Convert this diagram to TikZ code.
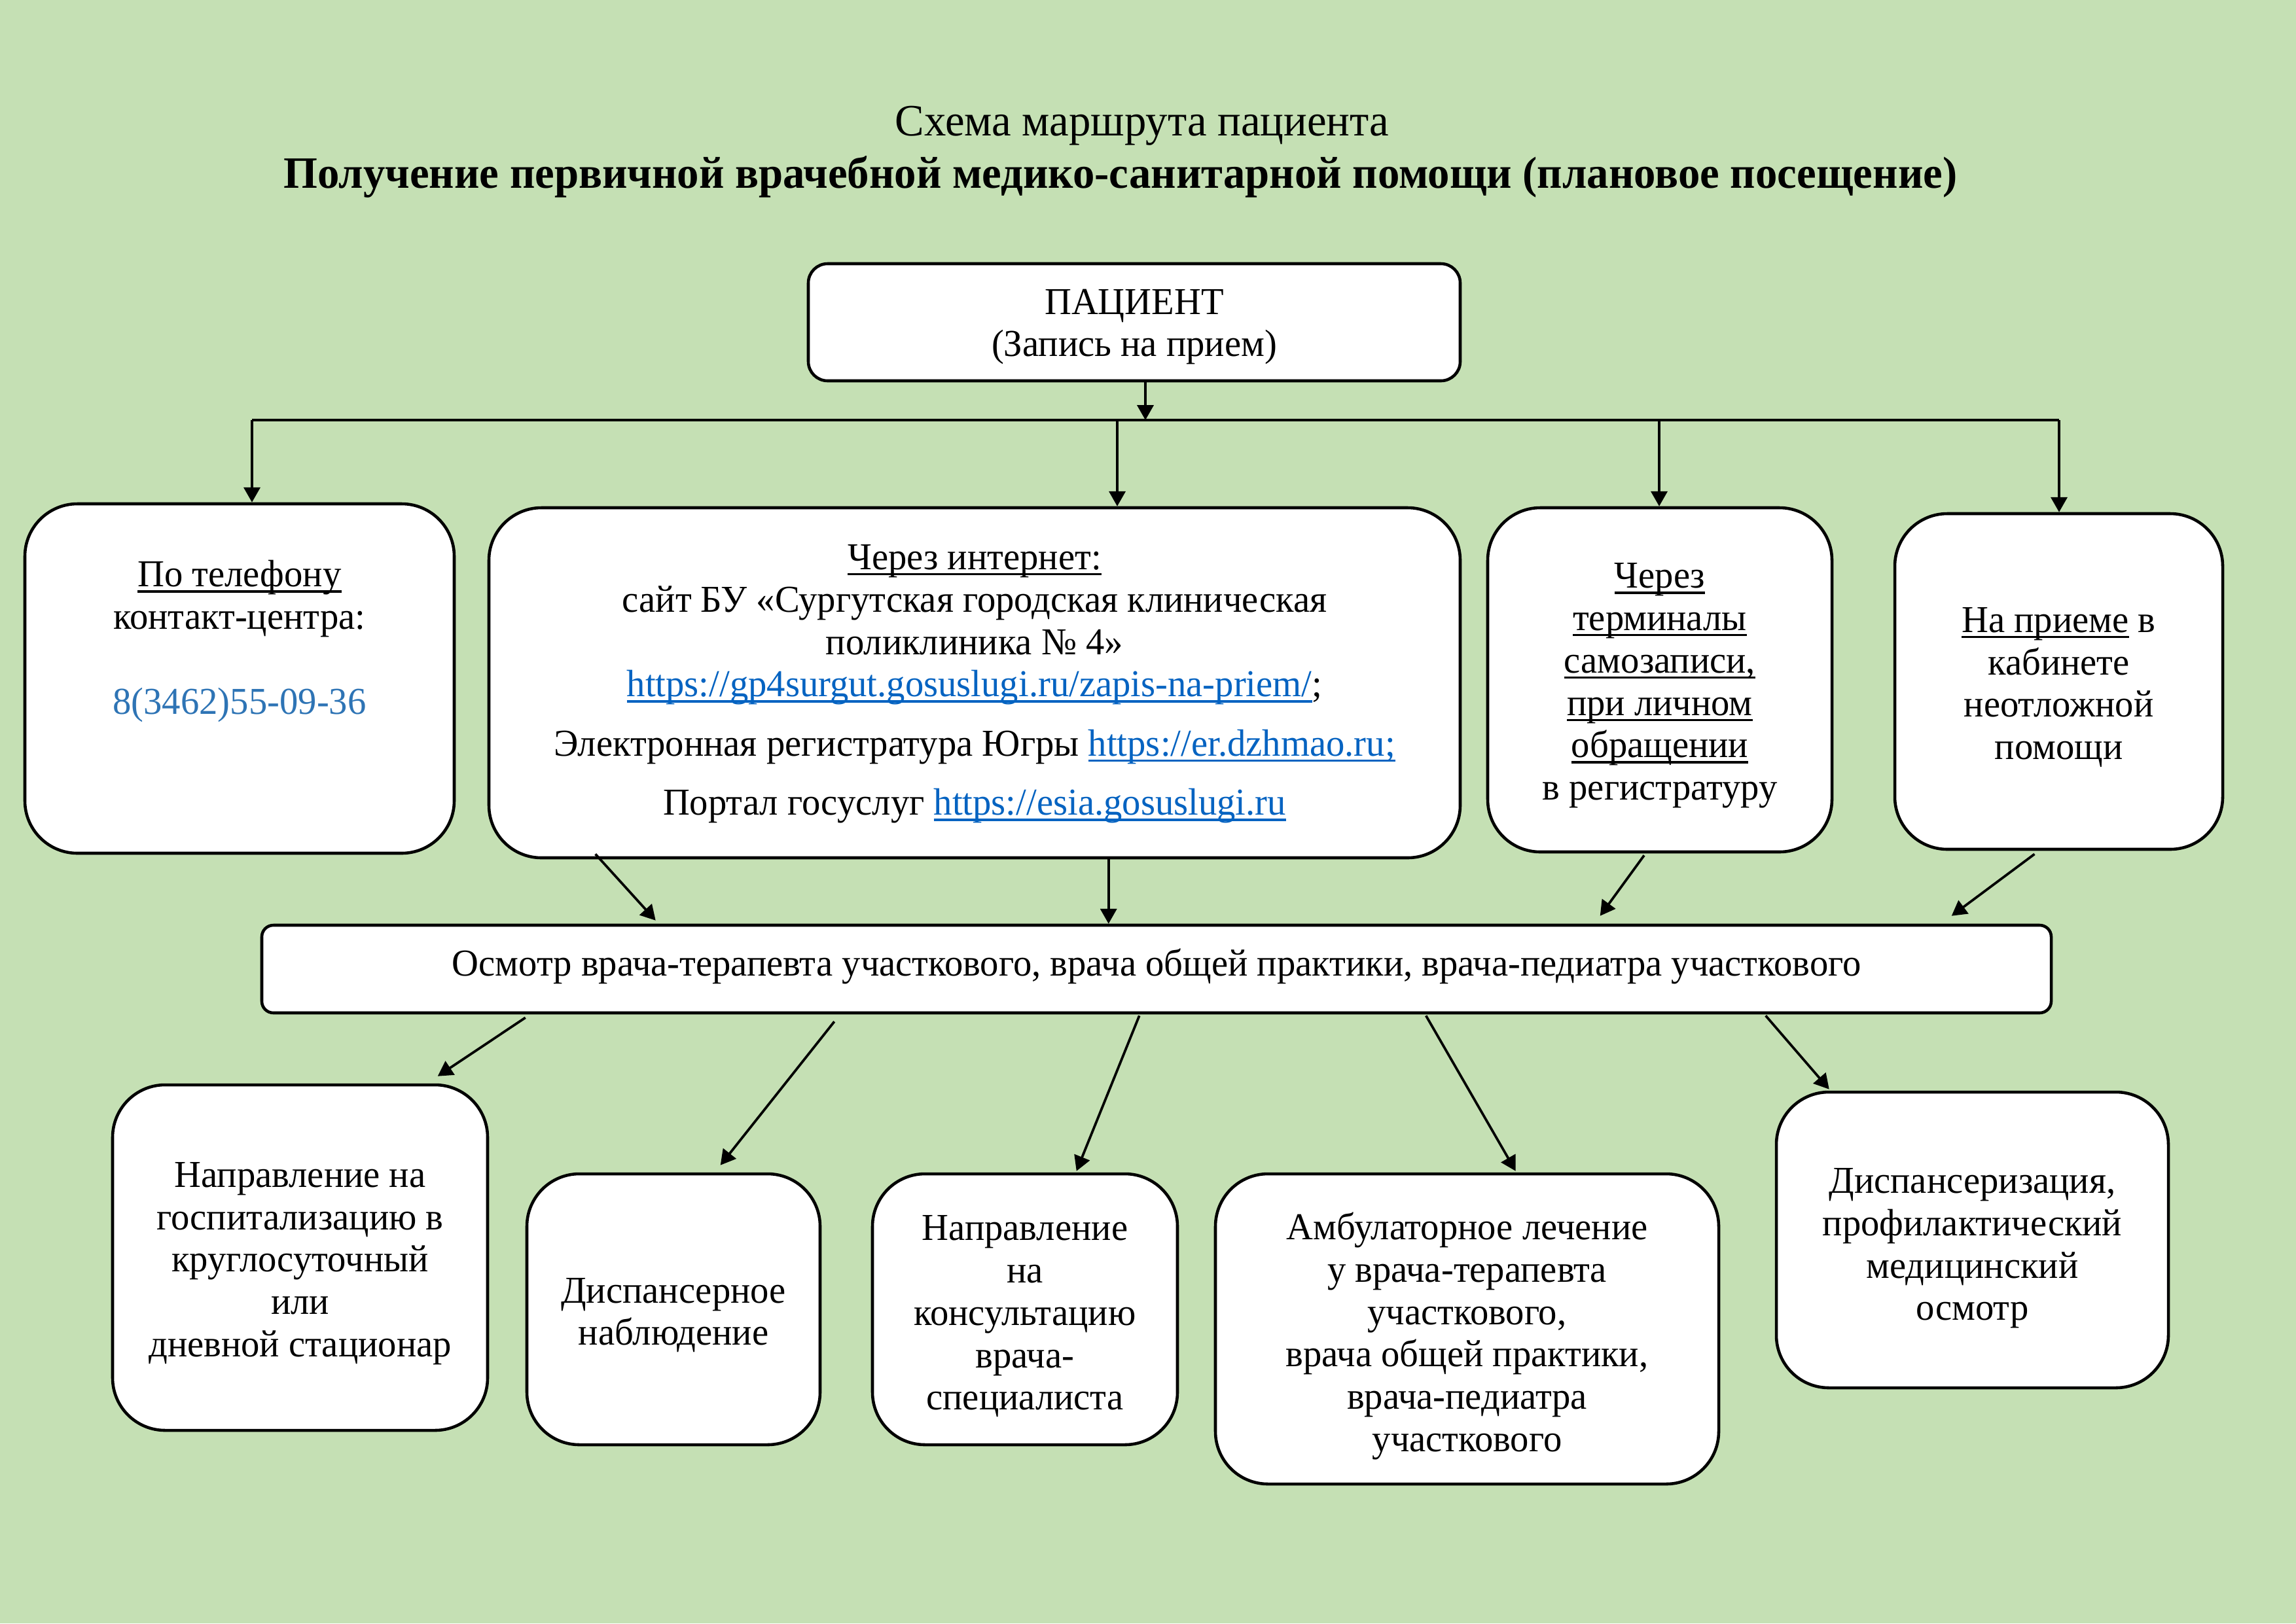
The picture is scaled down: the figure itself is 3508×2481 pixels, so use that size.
\documentclass[tikz,border=0pt]{standalone}
\usepackage{fontspec}
\setmainfont[FakeStretch=0.975]{Liberation Serif}
\usetikzlibrary{arrows.meta,calc}
\definecolor{bg}{HTML}{C5E0B4}
\definecolor{linkc}{HTML}{0563C1}
\definecolor{phonec}{HTML}{2E74B5}
\newcommand{\myul}[1]{\setbox0=\hbox{#1}\leavevmode\rlap{\vrule height -1.3pt depth 2.1pt width \wd0}\box0\relax}
\newcommand{\lnk}[1]{\textcolor{linkc}{\myul{#1}}}
\begin{document}
\begin{tikzpicture}[x=0.0084663cm,y=-0.0084663cm,
  box/.style={draw=black, line width=1.1pt, fill=white, inner sep=0pt},
  wh/.style 2 args={minimum width=#1*0.0084663cm, minimum height=#2*0.0084663cm},
  bigr/.style={rounded corners=0.68cm},
  txt/.style={align=center, inner sep=0pt, font=\fontsize{14}{15.6}\selectfont},
  ttl/.style={inner sep=0pt, font=\fontsize{16.5}{19}\selectfont},
  ln/.style={line width=0.8pt},
  arr/.style={line width=0.9pt, -{Triangle[length=5.5pt,width=6pt]}}]
\fill[bg] (0,0) rectangle (3508,2481);
\useasboundingbox (0,0) rectangle (3508,2481);

% titles
\node[ttl] (t1) at (1745,192) {Схема маршрута пациента};
\node[ttl, font=\fontsize{16.5}{19}\selectfont\bfseries] (t2) at (1712,270) {Получение первичной врачебной медико-санитарной помощи (плановое посещение)};

% patient
\node[box, rounded corners=0.25cm, wh={996}{179}] (pat) at (1733,492.5) {};
\node[txt] (pat-t) at ($(pat.center)+(0,7)$) {ПАЦИЕНТ\\(Запись на прием)};

% row 2
\node[box, bigr, wh={656}{534}] (phone) at (366,1037) {};
\node[txt] (phone-t) at (366,980) {\myul{По телефону}\\контакт-центра:\\[15.6pt]\textcolor{phonec}{8(3462)55-09-36}};

\node[box, bigr, wh={1484}{535}] (inet) at (1489,1043.5) {};
\node[txt] (inet-t) at ($(inet.center)+(0,2)$) {\myul{Через интернет:}\\
сайт БУ «Сургутская городская клиническая\\
поликлиника № 4»\\
\lnk{https://gp4surgut.gosuslugi.ru/zapis-na-priem/};\\[6.2pt]
Электронная регистратура Югры \lnk{https://er.dzhmao.ru;}\\[6.2pt]
Портал госуслуг \lnk{https://esia.gosuslugi.ru}};

\node[box, bigr, wh={526}{526}] (term) at (2536,1039) {};
\node[txt] (term-t) at ($(term.center)+(0,9)$) {\myul{Через}\\\myul{терминалы}\\\myul{самозаписи,}\\\myul{при личном}\\\myul{обращении}\\в регистратуру};

\node[box, bigr, wh={501}{513}] (recep) at (3145.5,1041.5) {};
\node[txt] (recep-t) at ($(recep.center)+(0,9)$) {\myul{На приеме} в\\кабинете\\неотложной\\помощи};

% middle
\node[box, rounded corners=0.15cm, wh={2734}{134}] (osm) at (1767,1481) {};
\node[txt] (osm-t) at ($(osm.center)+(0,-4)$) {Осмотр врача-терапевта участкового, врача общей практики, врача-педиатра участкового};

% row 3
\node[box, bigr, wh={573}{528}] (hosp) at (458.5,1922) {};
\node[txt] (hosp-t) at ($(hosp.center)+(0,9)$) {Направление на\\госпитализацию в\\круглосуточный\\или\\дневной стационар};
\node[box, bigr, wh={448}{414}] (disp) at (1029,2001) {};
\node[txt] (disp-t) at ($(disp.center)+(0,9)$) {Диспансерное\\наблюдение};
\node[box, bigr, wh={466}{414}] (napr) at (1566,2001) {};
\node[txt] (napr-t) at ($(napr.center)+(0,11)$) {Направление\\на\\консультацию\\врача-\\специалиста};
\node[box, bigr, wh={769}{474}] (amb) at (2241.5,2031) {};
\node[txt] (amb-t) at ($(amb.center)+(0,11)$) {Амбулаторное лечение\\у врача-терапевта\\участкового,\\врача общей практики,\\врача-педиатра\\участкового};
\node[box, bigr, wh={599}{452}] (dispz) at (3013.5,1895) {};
\node[txt] (dispz-t) at ($(dispz.center)+(0,13)$) {Диспансеризация,\\профилактический\\медицинский\\осмотр};

% distribution line
\coordinate (hL) at (385,642);
\coordinate (hR) at (3146,642);
\coordinate (pin) at (1750,642);
\coordinate (d2) at (1707,642);
\coordinate (d3) at (2535,642);
\draw[ln] (hL) -- (hR);
\draw[arr] (pin |- pat.south) -- (pin);
\draw[arr] (hL) -- (hL |- phone.north);
\draw[arr] (d2) -- (d2 |- inet.north);
\draw[arr] (d3) -- (d3 |- term.north);
\draw[arr] (hR) -- (hR |- recep.north);

% to osmotr
\draw[arr] ($(inet.south west)+(165,-8)$) -- ($(osm.north west)+(604,-5)$);
\draw[arr] ($(inet.south west)+(949,0)$) -- ($(osm.north west)+(1296,0)$);
\draw[arr] ($(term.south)+(-24,3)$) -- ($(osm.north west)+(2047,-12)$);
\draw[arr] ($(recep.south)+(-37,5)$) -- ($(osm.north west)+(2584,-12)$);

% from osmotr
\draw[arr] ($(osm.south west)+(405,5)$) -- ($(hosp.north west)+(499,-11)$);
\draw[arr] ($(osm.south west)+(877,11)$) -- ($(disp.north west)+(298,-11)$);
\draw[arr] ($(osm.south west)+(1343,2)$) -- ($(napr.north west)+(314,-2)$);
\draw[arr] ($(osm.south west)+(1781,2)$) -- ($(amb.north west)+(461,-2)$);
\draw[arr] ($(osm.south west)+(2300,2)$) -- ($(dispz.north west)+(83,-2)$);
\end{tikzpicture}
\end{document}
